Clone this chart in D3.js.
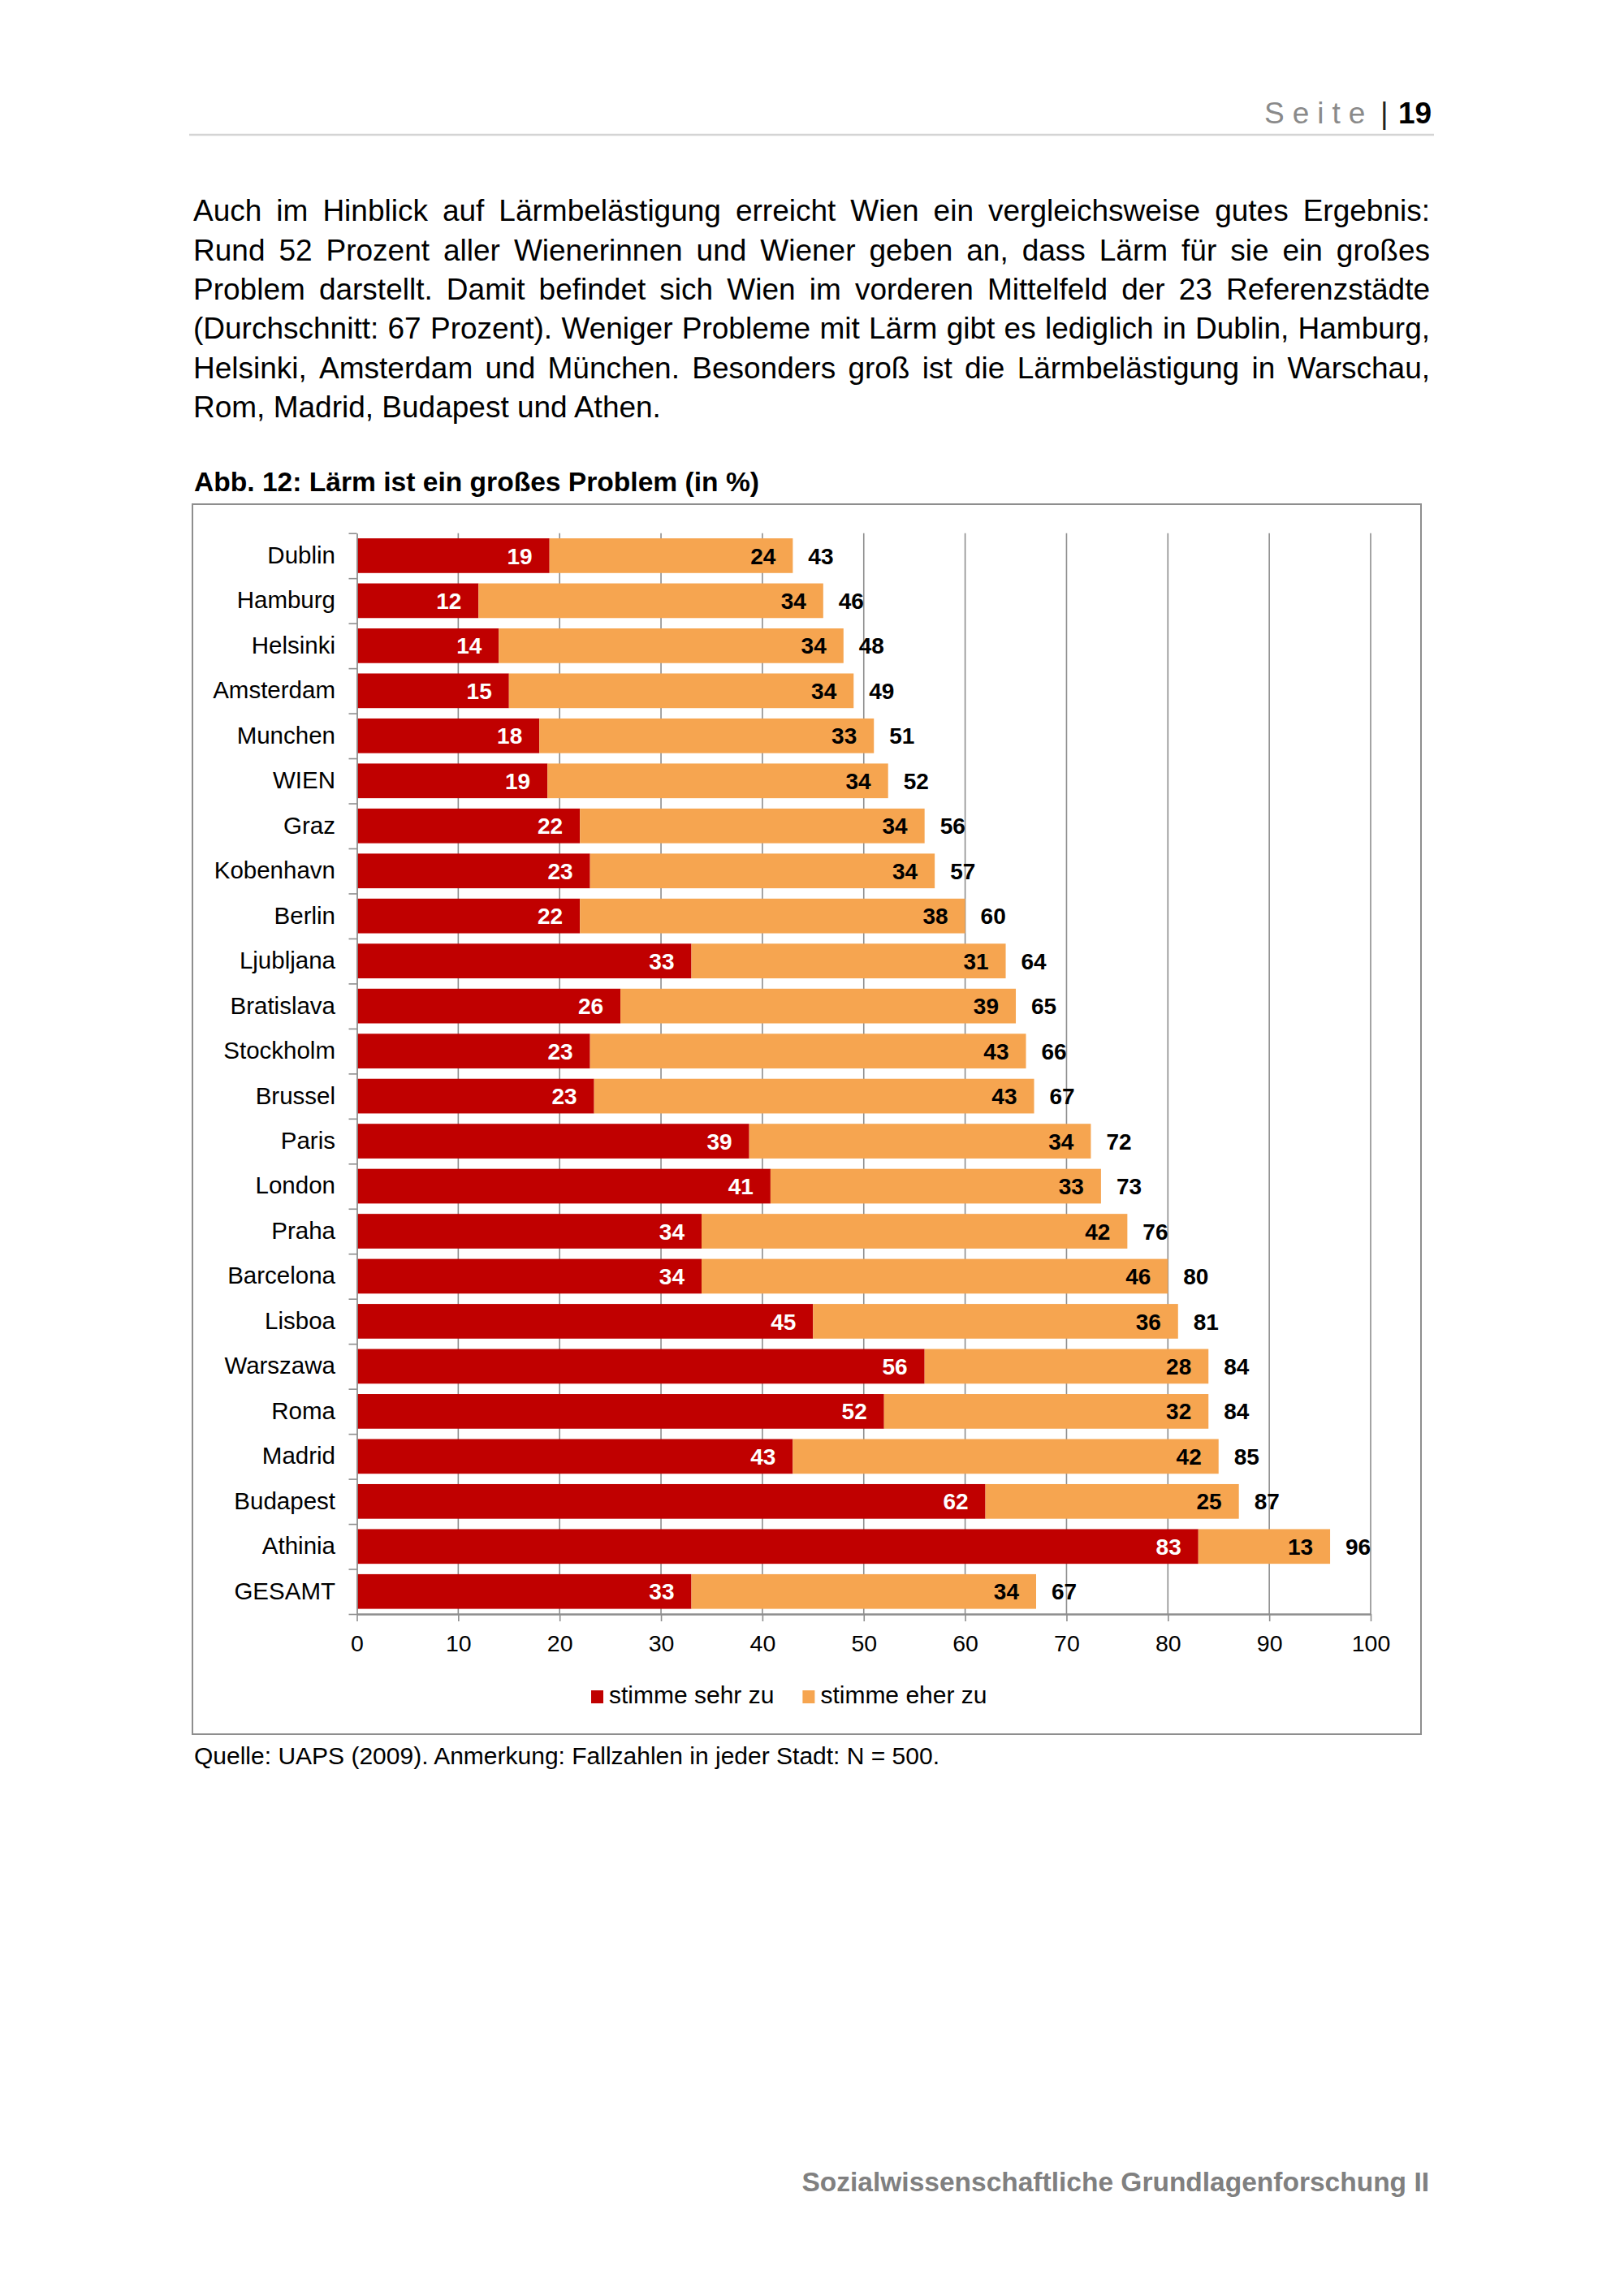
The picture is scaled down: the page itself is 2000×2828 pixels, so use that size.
<!DOCTYPE html>
<html lang="de">
<head>
<meta charset="utf-8">
<title>Lärm ist ein großes Problem</title>
<script src="https://d3js.org/d3.v7.min.js"></script>
<style>
  body { margin: 0; background: #fff; }
  svg { display: block; font-family: 'Liberation Sans', Arial, Helvetica, sans-serif; }
</style>
</head>
<body>
<div id="seite"></div>
<script>
/* global d3 */

// Daten (Abb. 12)
const cities = ['Dublin', 'Hamburg', 'Helsinki', 'Amsterdam', 'Munchen', 'WIEN', 'Graz', 'Kobenhavn',
  'Berlin', 'Ljubljana', 'Bratislava', 'Stockholm', 'Brussel', 'Paris', 'London', 'Praha',
  'Barcelona', 'Lisboa', 'Warszawa', 'Roma', 'Madrid', 'Budapest', 'Athinia', 'GESAMT']
const sehrZu = [19, 12, 14, 15, 18, 18.8, 22, 23, 22, 33, 26, 23, 23.4, 38.7, 40.8, 34, 34, 45, 56, 52, 43, 62, 83, 33]
const eherZu = [24, 34, 34, 34, 33, 33.6, 34, 34, 38, 31, 39, 43, 43.4, 33.7, 32.6, 42, 46, 36, 28, 32, 42, 25, 13, 34]
const seriesNames = ['stimme sehr zu', 'stimme eher zu']
const xTicks = [0, 10, 20, 30, 40, 50, 60, 70, 80, 90, 100]

const bodyLines = [
  'Auch im Hinblick auf Lärmbelästigung erreicht Wien ein vergleichsweise gutes Ergebnis:',
  'Rund 52 Prozent aller Wienerinnen und Wiener geben an, dass Lärm für sie ein großes',
  'Problem darstellt. Damit befindet sich Wien im vorderen Mittelfeld der 23 Referenzstädte',
  '(Durchschnitt: 67 Prozent). Weniger Probleme mit Lärm gibt es lediglich in Dublin, Hamburg,',
  'Helsinki, Amsterdam und München. Besonders groß ist die Lärmbelästigung in Warschau,',
  'Rom, Madrid, Budapest und Athen.'
]

const width = 2000
const height = 2828
const red = '#c00000'
const orange = '#f6a550'
const gridColor = '#8e8e8e'
const fmt = d3.format('.0f')

const svg = d3.select('#seite')
  .append('svg')
  .attr('width', width)
  .attr('height', height)
  .attr('viewBox', `0 0 ${width} ${height}`)

// Kopfzeile
svg.append('text')
  .attr('x', 1557)
  .attr('y', 152)
  .attr('font-size', 37)
  .attr('letter-spacing', 10)
  .attr('fill', '#8a8a8a')
  .text('Seite')

svg.append('text')
  .attr('x', 1700)
  .attr('y', 152)
  .attr('font-size', 37)
  .attr('fill', '#222')
  .text('|')

svg.append('text')
  .attr('x', 1722)
  .attr('y', 152)
  .attr('font-size', 37)
  .attr('font-weight', 'bold')
  .text('19')

svg.append('line')
  .attr('x1', 233).attr('x2', 1766)
  .attr('y1', 166).attr('y2', 166)
  .attr('stroke', '#d4d4d4')
  .attr('stroke-width', 2.5)

// Fliesstext im Blocksatz
const textLeft = 238
const textWidth = 1523
const body = svg.append('g').attr('font-size', 37).attr('fill', '#000')

bodyLines.forEach((line, i) => {
  const t = body.append('text').attr('y', 272.3 + i * 48.35)
  if (i === bodyLines.length - 1) {
    t.attr('x', textLeft).text(line)
    return
  }
  const words = line.split(' ')
  const spans = t.selectAll('tspan').data(words).join('tspan').text(d => d)
  const widths = spans.nodes().map(n => n.getComputedTextLength())
  const gap = (textWidth - d3.sum(widths)) / (words.length - 1)
  let cx = textLeft
  spans.attr('x', (d, j) => {
    const pos = cx
    cx += widths[j] + gap
    return pos
  })
})

// Titel
svg.append('text')
  .attr('x', 239)
  .attr('y', 605)
  .attr('font-size', 33.6)
  .attr('font-weight', 'bold')
  .text('Abb. 12: Lärm ist ein großes Problem (in %)')

// Rahmen
svg.append('rect')
  .attr('x', 237).attr('y', 621)
  .attr('width', 1513).attr('height', 1515)
  .attr('fill', 'none')
  .attr('stroke', gridColor)
  .attr('stroke-width', 2)

// Skalen
const x = d3.scaleLinear()
  .domain([0, 100])
  .range([439.5, 1688])

const y = d3.scaleBand()
  .domain(cities)
  .range([656.7, 1988])
  .paddingInner(0.23)
  .paddingOuter(0.115)

const yEdge = d3.scaleLinear()
  .domain([0, cities.length])
  .range(y.range())

// Gitternetz
svg.append('g')
  .selectAll('line')
  .data(xTicks.filter(v => v > 0))
  .join('line')
  .attr('x1', d => x(d)).attr('x2', d => x(d))
  .attr('y1', y.range()[0]).attr('y2', y.range()[1])
  .attr('stroke', gridColor)
  .attr('stroke-width', 1.6)

// Balken (gestapelt)
const rows = cities.map((c, i) => ({ city: c, sehr: sehrZu[i], eher: eherZu[i] }))
const stacked = d3.stack().keys(['sehr', 'eher'])(rows)
const colors = [red, orange]

svg.append('g')
  .selectAll('g')
  .data(stacked)
  .join('g')
  .attr('fill', (d, i) => colors[i])
  .selectAll('rect')
  .data(d => d)
  .join('rect')
  .attr('x', d => x(d[0]))
  .attr('y', d => y(d.data.city))
  .attr('width', d => x(d[1]) - x(d[0]))
  .attr('height', y.bandwidth())

// Achsen
const xAxis = (g) => {
  g.attr('transform', `translate(0,${y.range()[1]})`)
    .call(d3.axisBottom(x).tickValues(xTicks).tickSize(9).tickSizeOuter(0).tickPadding(17))
    .attr('font-family', null)
    .attr('font-size', 28.5)
  g.select('.domain').attr('stroke', gridColor).attr('stroke-width', 2.6)
  g.selectAll('.tick line').attr('stroke', gridColor).attr('stroke-width', 1.6)
  g.selectAll('.tick text').attr('fill', '#000')
}

const yTicks = (g) => {
  g.attr('transform', `translate(${x(0)},0)`)
    .call(d3.axisLeft(yEdge).tickValues(d3.range(cities.length + 1)).tickFormat('').tickSize(10).tickSizeOuter(0))
  g.select('.domain').attr('stroke', gridColor).attr('stroke-width', 1.8)
  g.selectAll('.tick line').attr('stroke', gridColor).attr('stroke-width', 1.6)
}

const yLabels = (g) => {
  g.attr('transform', `translate(${x(0)},0)`)
    .call(d3.axisLeft(y).tickSize(0).tickPadding(26.5))
    .attr('font-family', null)
    .attr('font-size', 29.5)
  g.select('.domain').remove()
  g.selectAll('.tick text').attr('fill', '#000')
}

svg.append('g').call(yTicks)
svg.append('g').call(xAxis)
svg.append('g').call(yLabels)

// Datenbeschriftungen
const labels = svg.append('g')
  .attr('font-size', 28)
  .attr('font-weight', 'bold')

labels.selectAll('.lab-sehr')
  .data(rows)
  .join('text')
  .attr('class', 'lab-sehr')
  .attr('x', d => x(d.sehr) - 21)
  .attr('y', d => y(d.city) + y.bandwidth() / 2)
  .attr('dy', '0.36em')
  .attr('text-anchor', 'end')
  .attr('fill', '#fff')
  .text(d => fmt(d.sehr))

labels.selectAll('.lab-eher')
  .data(rows)
  .join('text')
  .attr('class', 'lab-eher')
  .attr('x', d => x(d.sehr + d.eher) - 21)
  .attr('y', d => y(d.city) + y.bandwidth() / 2)
  .attr('dy', '0.36em')
  .attr('text-anchor', 'end')
  .attr('fill', '#000')
  .text(d => fmt(d.eher))

labels.selectAll('.lab-sum')
  .data(rows)
  .join('text')
  .attr('class', 'lab-sum')
  .attr('x', d => x(d.sehr + d.eher) + 19)
  .attr('y', d => y(d.city) + y.bandwidth() / 2)
  .attr('dy', '0.36em')
  .attr('text-anchor', 'start')
  .attr('fill', '#000')
  .text(d => fmt(d.sehr + d.eher))

// Legende
const legend = svg.append('g').attr('font-size', 30)
let lx = 728
seriesNames.forEach((name, i) => {
  legend.append('rect')
    .attr('x', lx).attr('y', 2082)
    .attr('width', 15).attr('height', 16)
    .attr('fill', colors[i])
  const t = legend.append('text')
    .attr('x', lx + 22)
    .attr('y', 2098)
    .attr('fill', '#000')
    .text(name)
  lx += 22 + t.node().getComputedTextLength() + 35
})

// Quelle
svg.append('text')
  .attr('x', 239)
  .attr('y', 2173)
  .attr('font-size', 30)
  .text('Quelle: UAPS (2009). Anmerkung: Fallzahlen in jeder Stadt: N = 500.')

// Fusszeile
svg.append('text')
  .attr('x', 1760)
  .attr('y', 2699)
  .attr('text-anchor', 'end')
  .attr('font-size', 33.5)
  .attr('font-weight', 'bold')
  .attr('fill', '#808080')
  .text('Sozialwissenschaftliche Grundlagenforschung II')
</script>
</body>
</html>
